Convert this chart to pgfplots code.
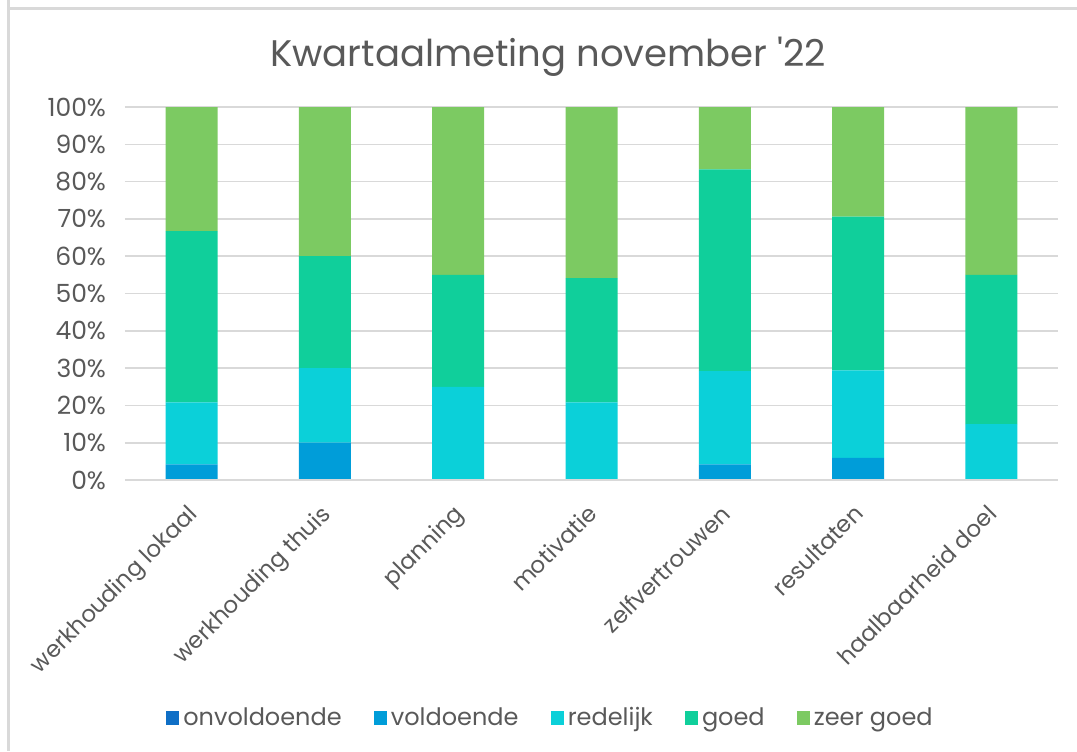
\documentclass[border=0pt]{standalone}
\usepackage{pgfplots}
\pgfplotsset{compat=1.18}
\usepackage{fontspec}
\setmainfont{Poppins}
\definecolor{onv}{HTML}{0F6FC6}
\definecolor{vol}{HTML}{009DD9}
\definecolor{red}{HTML}{0BD0D9}
\definecolor{goe}{HTML}{10CF9B}
\definecolor{zg}{HTML}{7CCA62}
\definecolor{txt}{HTML}{595959}
\definecolor{grd}{HTML}{D9D9D9}
\begin{document}
\begin{tikzpicture}
\path[use as bounding box] (0pt,0pt) rectangle (538.5pt,375.5pt);
\draw[grd,line width=1.5pt] (4pt,375.5pt) -- (4pt,371pt) -- (538.5pt,371pt);
\draw[grd,line width=1.5pt] (4pt,371pt) -- (4pt,0pt);
\node[txt,font=\fontsize{18.5}{22}\selectfont] at (274pt,347pt) {Kwartaalmeting november \textquotesingle22};
\begin{axis}[
  at={(62.5pt,135.5pt)}, anchor=south west,
  scale only axis, width=466.5pt, height=186.5pt,
  ybar stacked, bar width=26pt,
  xmin=-0.5, xmax=6.5, ymin=0, ymax=100,
  xtick=data,
  xticklabels={werkhouding lokaal,werkhouding thuis,planning,motivatie,zelfvertrouwen,resultaten,haalbaarheid doel},
  x tick label style={rotate=45, anchor=north east, font=\fontsize{11.5}{13}\selectfont, text=txt, inner sep=1pt, yshift=-5pt, xshift=-9pt},
  ytick={0,10,...,100},
  /pgf/number format/assume math mode=true,
  yticklabel={\pgfmathprintnumber{\tick}\%},
  y tick label style={font=\fontsize{12.5}{14}\selectfont, text=txt, xshift=-6pt},
  ymajorgrids, grid style={grd, line width=0.8pt},
  axis line style={draw=none},
  axis x line*=bottom, axis y line*=left,
  major tick length=0pt,
  tick style={draw=none},
  clip=false,
  legend columns=5,
  legend style={at={(0.457,-0.638)}, anchor=center, draw=none, fill=none,
    font=\fontsize{12}{14}\selectfont, text=txt,
    /tikz/every even column/.append style={column sep=14pt}},
  legend image code/.code={\fill[#1] (0pt,-3.4pt) rectangle (6.6pt,3.4pt);},
]
\draw[grd, line width=0.8pt] (axis cs:-0.5,0) -- (axis cs:6.5,0);
\addplot[fill=onv, draw=none] coordinates {(0,0) (1,0) (2,0) (3,0) (4,0) (5,0) (6,0)};
\addplot[fill=vol, draw=none] coordinates {(0,4.2) (1,10) (2,0) (3,0) (4,4.2) (5,5.9) (6,0)};
\addplot[fill=red, draw=none] coordinates {(0,16.6) (1,20) (2,25) (3,20.8) (4,25) (5,23.5) (6,15)};
\addplot[fill=goe, draw=none] coordinates {(0,45.9) (1,30) (2,30) (3,33.3) (4,54.1) (5,41.2) (6,40)};
\addplot[fill=zg, draw=none] coordinates {(0,33.3) (1,40) (2,45) (3,45.9) (4,16.7) (5,29.4) (6,45)};
\legend{onvoldoende,voldoende,redelijk,goed,zeer goed}
\end{axis}
\end{tikzpicture}
\end{document}
